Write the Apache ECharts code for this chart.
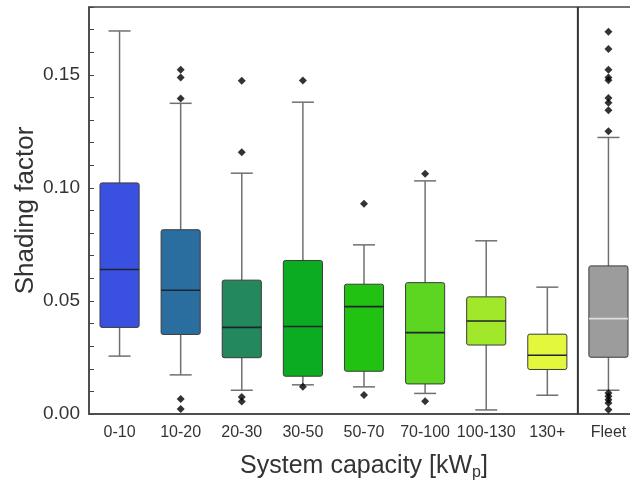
<!DOCTYPE html>
<html>
<head>
<meta charset="utf-8">
<script src="https://cdn.jsdelivr.net/npm/echarts@6/dist/echarts.min.js"></script>
<style>html,body{margin:0;padding:0;background:#fff;}#c{width:630px;height:480px;}</style>
</head>
<body>
<div id="c"></div>
<script>
const categories = ['0-10','10-20','20-30','30-50','50-70','70-100','100-130','130+','Fleet'];
const lowerWhisker = [0.0256, 0.0173, 0.0105, 0.0129, 0.0120, 0.0091, 0.0018, 0.0083, 0.0105];
const q1 =           [0.0383, 0.0352, 0.0249, 0.0167, 0.0189, 0.0133, 0.0305, 0.0197, 0.0251];
const median =       [0.0639, 0.0547, 0.0383, 0.0387, 0.0475, 0.0360, 0.0411, 0.0260, 0.0422];
const q3 =           [0.1022, 0.0815, 0.0592, 0.0679, 0.0574, 0.0581, 0.0518, 0.0353, 0.0655];
const upperWhisker = [0.1694, 0.1374, 0.1065, 0.1379, 0.0748, 0.1031, 0.0766, 0.0561, 0.1223];
const outliers = [
  [],
  [0.1522, 0.1488, 0.1395, 0.0066, 0.0022],
  [0.1474, 0.1158, 0.0075, 0.0055],
  [0.1475, 0.0120],
  [0.0930, 0.0084],
  [0.1062, 0.0056],
  [],
  [],
  [0.1691, 0.1614, 0.1522, 0.1488, 0.1476, 0.1398, 0.1377, 0.1343, 0.1250, 0.0093, 0.0078, 0.0063, 0.0049, 0.0019]
];
const yTicks = [0, 0.05, 0.10, 0.15];
const yMax = 0.18;

const boxColors = ['#3a50e0','#2a6ea0','#23885c','#0bab22','#22c212','#5cd620','#a2e82a','#e3f83c','#9c9c9c'];
const medianColors = ['#1c2430','#1c2430','#1c2430','#1c2430','#1c2430','#1c2430','#1c2430','#1c2430','#dddddd'];

const boxData = categories.map((c, i) => [i, lowerWhisker[i], q1[i], median[i], q3[i], upperWhisker[i]]);
const outlierData = [];
outliers.forEach((arr, i) => arr.forEach(v => outlierData.push([categories[i], v])));
const sepX = categories.length - 1.5;

const chart = echarts.init(document.getElementById('c'), null, {renderer: 'canvas'});
const FONT = 'Liberation Sans, Arial, sans-serif';
chart.setOption({
  animation: false,
  backgroundColor: '#fff',
  grid: {left: 89, top: 7, width: 550, height: 407, show: true, borderColor: '#444', borderWidth: 1.5,
    backgroundColor: 'transparent', containLabel: false, outerBoundsMode: 'none'},
  xAxis: [{
    type: 'category',
    data: categories,
    boundaryGap: true,
    axisLine: {lineStyle: {color: '#444', width: 1.5}},
    axisTick: {inside: true, alignWithLabel: true, length: 5, lineStyle: {color: '#444'}},
    axisLabel: {fontSize: 16, color: '#333', margin: 11, fontFamily: FONT, interval: 0},
    name: 'System capacity [kW{sub|p}]',
    nameLocation: 'middle',
    nameGap: 38,
    nameMoveOverlap: false,
    nameTextStyle: {fontSize: 25, color: '#333', fontFamily: FONT,
      rich: {sub: {fontSize: 16, color: '#333', fontFamily: FONT, padding: [13, 0, 0, 0]}}},
    splitLine: {show: false}
  }, {
    type: 'value', min: -0.5, max: categories.length - 0.5, show: false
  }],
  yAxis: {
    type: 'value',
    min: 0, max: yMax, interval: 0.01,
    axisLine: {show: true, onZero: false, lineStyle: {color: '#444', width: 1.5}},
    axisTick: {inside: true, length: 5, lineStyle: {color: '#444'}},
    axisLabel: {fontSize: 19, color: '#333', margin: 9, fontFamily: FONT,
      formatter: v => {
        const hit = yTicks.find(t => Math.abs(t - v) < 1e-6);
        return hit !== undefined ? hit.toFixed(2) : '';
      }},
    splitLine: {show: false},
    name: 'Shading factor',
    nameLocation: 'middle',
    nameGap: 50,
    nameMoveOverlap: false,
    nameTextStyle: {fontSize: 26, color: '#333', fontFamily: FONT}
  },
  series: [{
    type: 'custom',
    data: boxData,
    encode: {x: 0, y: [1, 2, 3, 4, 5]},
    renderItem: (params, api) => {
      const i = api.value(0);
      const pLow = api.coord([i, api.value(1)]);
      const pQ1 = api.coord([i, api.value(2)]);
      const pMed = api.coord([i, api.value(3)]);
      const pQ3 = api.coord([i, api.value(4)]);
      const pHigh = api.coord([i, api.value(5)]);
      const band = api.size([1, 0])[0];
      const half = band * 0.32;
      const cap = band * 0.18;
      const cx = pMed[0];
      const wStyle = {stroke: '#707070', lineWidth: 1.5};
      return {type: 'group', children: [
        {type: 'line', shape: {x1: cx, y1: pHigh[1], x2: cx, y2: pQ3[1]}, style: wStyle},
        {type: 'line', shape: {x1: cx, y1: pLow[1], x2: cx, y2: pQ1[1]}, style: wStyle},
        {type: 'line', shape: {x1: cx - cap, y1: pHigh[1], x2: cx + cap, y2: pHigh[1]}, style: wStyle},
        {type: 'line', shape: {x1: cx - cap, y1: pLow[1], x2: cx + cap, y2: pLow[1]}, style: wStyle},
        {type: 'rect', shape: {x: cx - half, y: pQ3[1], width: half * 2, height: pQ1[1] - pQ3[1], r: 2},
          style: {fill: boxColors[i], stroke: '#3a3a3a', lineWidth: 1}},
        {type: 'line', shape: {x1: cx - half, y1: pMed[1], x2: cx + half, y2: pMed[1]},
          style: {stroke: medianColors[i], lineWidth: 1.6}}
      ]};
    },
    z: 2
  }, {
    type: 'scatter',
    data: outlierData,
    symbol: 'diamond',
    symbolSize: 8,
    itemStyle: {color: '#000'},
    z: 3
  }, {
    type: 'line',
    xAxisIndex: 1,
    data: [[sepX, 0], [sepX, yMax]],
    symbol: 'none',
    lineStyle: {color: '#333', width: 2},
    z: 4
  }]
});
</script>
</body>
</html>
